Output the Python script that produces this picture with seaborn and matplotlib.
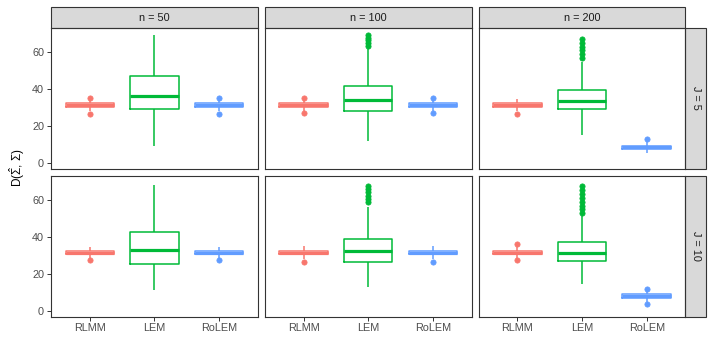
import numpy as np
import pandas as pd
import matplotlib
matplotlib.use("Agg")
import matplotlib.pyplot as plt
from matplotlib.patches import Rectangle
import seaborn as sns

# ---------------- data ----------------
methods = ["RLMM", "LEM", "RoLEM"]
n_levels = [50, 100, 200]
j_levels = [5, 10]
palette = {"RLMM": "#F8766D", "LEM": "#00BA38", "RoLEM": "#619CFF"}

# J = 5
rlmm_n50_j5 = [26.8, 28.0, 30.6, 31.0, 31.5, 32.0, 32.4, 34.5, 35.3]
lem_n50_j5 = [9.1, 29.0, 36.4, 47.3, 69.4]
rolem_n50_j5 = [26.8, 28.0, 30.6, 31.0, 31.5, 32.0, 32.4, 34.5, 35.3]

rlmm_n100_j5 = [27.0, 28.0, 30.6, 31.0, 31.5, 32.0, 32.4, 34.5, 35.2]
lem_n100_j5 = [12.0, 16.0, 19.5, 22.5, 25.0, 27.0, 28.3, 29.5, 30.7, 31.8,
               32.8, 33.6, 34.4, 35.3, 36.4, 37.6, 39.0, 40.4, 41.8, 61.8,
               63.6, 65.1, 66.6, 68.0, 69.5]
rolem_n100_j5 = [27.0, 28.0, 30.6, 31.0, 31.5, 32.0, 32.4, 34.5, 35.2]

rlmm_n200_j5 = [26.8, 28.2, 30.6, 31.0, 31.5, 32.0, 32.4, 33.5, 34.9]
lem_n200_j5 = [15.1, 18.0, 21.0, 23.5, 25.5, 27.0, 28.2, 29.0, 29.8, 30.5,
               31.2, 31.8, 32.4, 32.9, 33.4, 34.2, 35.0, 35.9, 36.8, 37.7,
               38.6, 39.5, 55.0, 57.2, 59.2, 61.2, 63.2, 65.2, 67.1]
rolem_n200_j5 = [5.1, 6.8, 7.5, 8.0, 8.4, 8.8, 9.3, 11.8, 13.0]

# J = 10
rlmm_n50_j10 = [27.6, 28.3, 30.7, 31.2, 31.6, 32.0, 32.5, 33.5, 34.5]
lem_n50_j10 = [11.4, 25.2, 33.0, 42.8, 68.4]
rolem_n50_j10 = [27.6, 28.3, 30.7, 31.2, 31.6, 32.0, 32.5, 33.5, 34.5]

rlmm_n100_j10 = [26.8, 28.2, 30.7, 31.2, 31.6, 32.0, 32.5, 33.8, 35.0]
lem_n100_j10 = [12.9, 15.5, 18.0, 20.0, 22.0, 23.8, 25.2, 26.3, 27.3, 28.3,
                29.2, 30.1, 30.9, 31.7, 32.5, 33.3, 34.2, 35.1, 36.0, 36.9,
                37.9, 38.8, 56.5, 59.0, 60.8, 62.6, 64.4, 66.2, 68.1]
rolem_n100_j10 = [26.8, 28.2, 30.7, 31.2, 31.6, 32.0, 32.5, 33.8, 35.0]

rlmm_n200_j10 = [27.6, 28.3, 30.7, 31.2, 31.6, 32.0, 32.5, 34.5, 36.1]
lem_n200_j10 = [14.5, 16.5, 18.5, 20.2, 21.8, 23.2, 24.5, 25.5, 26.4, 27.2,
                27.7, 28.2, 28.7, 29.2, 29.7, 30.2, 30.7, 31.1, 31.6, 32.2,
                32.9, 33.6, 34.3, 35.0, 35.7, 36.3, 36.9, 37.4, 51.7, 53.3,
                55.2, 57.2, 59.2, 61.3, 63.4, 65.5, 67.6]
rolem_n200_j10 = [3.8, 4.6, 7.1, 7.6, 8.0, 8.4, 8.9, 11.3, 12.1]

samples = {
    (5, 50, "RLMM"): rlmm_n50_j5, (5, 50, "LEM"): lem_n50_j5, (5, 50, "RoLEM"): rolem_n50_j5,
    (5, 100, "RLMM"): rlmm_n100_j5, (5, 100, "LEM"): lem_n100_j5, (5, 100, "RoLEM"): rolem_n100_j5,
    (5, 200, "RLMM"): rlmm_n200_j5, (5, 200, "LEM"): lem_n200_j5, (5, 200, "RoLEM"): rolem_n200_j5,
    (10, 50, "RLMM"): rlmm_n50_j10, (10, 50, "LEM"): lem_n50_j10, (10, 50, "RoLEM"): rolem_n50_j10,
    (10, 100, "RLMM"): rlmm_n100_j10, (10, 100, "LEM"): lem_n100_j10, (10, 100, "RoLEM"): rolem_n100_j10,
    (10, 200, "RLMM"): rlmm_n200_j10, (10, 200, "LEM"): lem_n200_j10, (10, 200, "RoLEM"): rolem_n200_j10,
}

rows = []
for (j, n, m), vals in samples.items():
    for v in vals:
        rows.append({"J": j, "n": n, "method": m, "D": v})
df = pd.DataFrame(rows)

# ---------------- style ----------------
sns.set_theme(style="white")
plt.rcParams["font.family"] = ["Liberation Sans", "DejaVu Sans"]
plt.rcParams["mathtext.fontset"] = "custom"
plt.rcParams["mathtext.rm"] = "Liberation Sans"
plt.rcParams["mathtext.it"] = "Liberation Sans:italic"
plt.rcParams["mathtext.bf"] = "Liberation Sans:bold"

border = "#333333"
tick_col = "#4D4D4D"
fs = 7.8

g = sns.catplot(
    data=df, x="method", y="D", hue="method", order=methods, hue_order=methods,
    col="n", row="J", col_order=n_levels, row_order=j_levels, kind="box",
    palette=palette, fill=False, width=0.75, linewidth=1.1, showcaps=False,
    flierprops=dict(marker="o", markersize=3.8),
    medianprops=dict(linewidth=2.3),
    legend=False, height=2, aspect=1.4, sharey=True, sharex=True,
    facet_kws=dict(despine=False),
)

fig = g.figure
fig.set_size_inches(7.14, 3.57)
fig.subplots_adjust(left=51 / 714, right=685.5 / 714, top=1 - 28 / 357,
                    bottom=1 - 316.5 / 357, wspace=0.034, hspace=0.053)

panel_w = (685.5 - 51 - 14) / 3
panel_h = (316.5 - 28 - 7.4) / 2

nrow, ncol = g.axes.shape
for i in range(nrow):
    for k in range(ncol):
        ax = g.axes[i, k]
        ax.set_title("")
        ax.set_xlabel("")
        ax.set_ylabel("")
        ax.set_ylim(-3.1, 73.3)
        ax.set_xlim(-0.6, 2.6)
        ax.set_yticks([0, 20, 40, 60])
        ax.grid(False)
        for s in ax.spines.values():
            s.set_visible(True)
            s.set_color(border)
            s.set_linewidth(0.8)
        ax.tick_params(axis="both", which="both", length=3, width=0.7,
                       color=border, labelcolor=tick_col, labelsize=fs, pad=2)
        ax.tick_params(axis="x", bottom=(i == nrow - 1), labelbottom=(i == nrow - 1))
        ax.tick_params(axis="y", left=(k == 0), labelleft=(k == 0))
        # fliers filled
        for line in ax.lines:
            if line.get_marker() == "o":
                c = line.get_markeredgecolor()
                line.set_markerfacecolor(c)
                line.set_markeredgewidth(0.5)
        # top strips
        if i == 0:
            h = 21 / panel_h
            ax.add_patch(Rectangle((0, 1), 1, h, transform=ax.transAxes, clip_on=False,
                                   facecolor="#D9D9D9", edgecolor=border, lw=0.8))
            ax.text(0.5, 1 + h / 2, f"n = {n_levels[k]}", transform=ax.transAxes,
                    ha="center", va="center", fontsize=fs, color="#1A1A1A")
        # right strips
        if k == ncol - 1:
            w = 21 / panel_w
            ax.add_patch(Rectangle((1, 0), w, 1, transform=ax.transAxes, clip_on=False,
                                   facecolor="#D9D9D9", edgecolor=border, lw=0.8))
            ax.text(1 + w / 2, 0.5, f"J = {j_levels[i]}", transform=ax.transAxes,
                    ha="center", va="center", rotation=-90, fontsize=fs, color="#1A1A1A")

fig.text(17 / 714, 1 - 167.5 / 357, r"D($\hat{\Sigma}$, $\Sigma$)", rotation=90,
         ha="center", va="center", fontsize=8.5, color="black")

fig.savefig("out.png", dpi=100)
